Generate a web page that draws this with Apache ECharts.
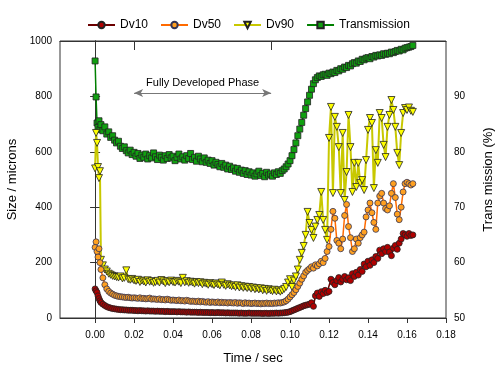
<!DOCTYPE html>
<html>
<head>
<meta charset="utf-8">
<script src="https://cdn.jsdelivr.net/npm/echarts@6/dist/echarts.min.js"></script>
<style>html,body{margin:0;padding:0;background:#fff}#c{width:500px;height:367px}</style>
</head>
<body>
<div id="c"></div>
<script>
// time (s)
const times = [0,0.0005,0.001,0.0015,0.002,0.0025,0.003,
0.004,0.005,0.006,0.007,0.008,0.009,0.010,
0.011,0.012,0.013,0.014,0.015,0.016,0.017,0.018,0.019,0.020,
0.021,0.022,0.023,0.024,0.025,0.026,0.027,0.028,0.029,0.030,
0.031,0.032,0.033,0.034,0.035,0.036,0.037,0.038,0.039,0.040,
0.041,0.042,0.043,0.044,0.045,0.046,0.047,0.048,0.049,0.050,
0.051,0.052,0.053,0.054,0.055,0.056,0.057,0.058,0.059,0.060,
0.061,0.062,0.063,0.064,0.065,0.066,0.067,0.068,0.069,0.070,
0.071,0.072,0.073,0.074,0.075,0.076,0.077,0.078,0.079,0.080,
0.081,0.082,0.083,0.084,0.085,0.086,0.087,0.088,0.089,0.090,
0.091,0.092,0.093,0.094,0.095,0.096,0.097,0.098,0.099,0.100,
0.101,0.102,0.103,0.104,0.105,0.106,0.107,0.108,0.109,0.110,
0.111,0.112,0.113,0.114,0.115,0.116,0.117,0.118,0.119,0.120,
0.121,0.122,0.123,0.124,0.125,0.126,0.127,0.128,0.129,0.130,
0.131,0.132,0.133,0.134,0.135,0.136,0.137,0.138,0.139,0.140,
0.141,0.142,0.143,0.144,0.145,0.146,0.147,0.148,0.149,0.150,
0.151,0.152,0.153,0.154,0.155,0.156,0.157,0.158,0.159,0.160,
0.161,0.162,0.163];

const dv10 = [105,98,92,80,70,62,56,
50,45,41,38,36,34,33,
32,31,30,30,29,29,28,28,28,27,
27,26,27,26,26,25,26,25,25,25,
24,25,24,24,24,23,24,23,23,23,
23,22,23,22,22,22,21,22,21,21,
21,21,20,21,20,20,20,20,19,20,
19,19,20,19,19,19,18,19,18,18,
18,18,18,17,18,17,17,17,18,17,
17,17,17,17,17,16,17,17,16,17,
17,17,18,17,18,18,19,20,21,23,
26,29,32,35,38,41,44,46,48,50,
55,42,80,90,78,95,88,100,92,96,
140,128,120,135,146,130,140,150,138,145,
135,160,150,165,155,175,168,195,185,205,
190,210,200,222,215,245,232,250,240,255,
238,225,252,262,248,270,285,305,300,295,
305,298,300];

const dv50 = [255,275,240,220,250,200,175,
145,120,105,96,90,86,82,
80,78,77,76,75,74,75,73,72,73,
72,71,73,70,71,69,70,72,68,69,
68,67,69,66,67,65,68,66,64,65,
64,63,65,62,63,61,64,62,60,61,
60,59,61,58,60,58,57,59,56,58,
57,56,58,55,57,55,56,54,56,55,
54,56,53,55,54,52,55,53,54,52,
53,54,52,53,51,53,52,54,52,53,
52,54,53,55,54,56,58,62,68,76,
84,92,102,114,126,140,152,165,172,178,
185,180,192,188,196,205,200,215,240,258,
320,385,360,280,270,250,285,370,410,330,
290,240,250,285,270,290,300,310,365,390,
415,380,345,320,415,440,450,415,395,390,
405,450,485,435,375,355,400,455,485,490,
485,480,485];

const dv90 = [540,668,632,545,505,530,210,
190,175,168,160,156,152,150,
148,146,150,143,145,172,140,138,141,136,
134,138,130,135,132,128,136,131,133,127,
130,134,128,137,132,126,133,129,135,130,
128,134,131,126,145,129,133,127,131,128,
124,130,126,129,122,127,124,120,126,122,
119,125,121,118,128,120,116,122,118,115,
117,112,118,110,115,109,113,108,112,106,
110,104,108,103,107,100,105,98,104,100,
97,102,96,100,95,99,105,112,128,140,
112,135,150,175,210,235,260,300,383,343,
318,289,330,354,372,455,354,318,282,650,
762,451,726,690,617,451,668,426,527,733,
617,455,560,473,560,487,498,462,570,679,
722,704,469,606,560,740,722,625,581,690,
733,787,751,690,596,552,668,740,758,751,
760,748,744];

const transmission = [96.4,89.9,85.2,84.4,85.6,84.0,84.9,
83.8,84.5,83.2,83.6,82.6,82.9,82.1,
81.6,81.9,81.0,80.6,80.9,80.2,79.8,80.3,79.5,79.9,
79.2,79.7,78.8,79.4,79.0,79.6,78.7,79.3,78.9,79.8,
79.1,78.6,79.4,79.0,78.5,79.3,78.8,79.5,78.9,79.2,
78.4,79.0,79.6,78.7,79.1,78.5,79.3,78.8,79.7,78.6,
79.0,78.3,79.2,78.7,78.2,78.9,78.1,78.5,77.9,78.4,
77.6,78.1,77.7,77.3,77.9,77.2,77.6,76.9,77.4,76.8,
77.1,76.5,77.0,76.3,76.7,76.1,76.6,75.9,76.4,75.8,
76.2,75.6,76.0,76.5,75.7,76.1,75.5,76.3,75.8,76.0,
75.6,76.2,75.9,76.4,76.1,76.6,76.9,77.3,77.8,78.4,
79.3,80.4,81.6,82.9,84.1,85.3,86.6,87.8,89.0,90.2,
91.3,92.3,93.0,93.4,93.7,93.6,93.9,94.0,93.8,94.2,
94.1,94.4,94.3,94.7,94.6,95.0,94.9,95.3,95.2,95.6,
95.5,95.9,96.1,96.0,96.4,96.3,96.7,96.6,96.9,97.0,
96.8,97.2,97.1,97.4,97.3,97.5,97.4,97.7,97.6,97.8,
97.7,98.0,97.9,98.1,98.3,98.2,98.5,98.4,98.7,98.8,
98.9,99.0,99.2];

const xTicks = [0,0.02,0.04,0.06,0.08,0.10,0.12,0.14,0.16,0.18];
const rightTicks = [50,60,70,80,90];
const phaseLabel = 'Fully Developed Phase';
const phaseStart = 0.02, phaseEnd = 0.0903, phaseLevel = 90.6;
const phaseTicks = [phaseStart, phaseEnd];

function pairs(ys){ return times.map((t,i)=>[t, ys[i]]); }

const FONT = 'Liberation Sans, Arial, sans-serif';
const chart = echarts.init(document.getElementById('c'), null, {renderer:'canvas'});
chart.setOption({
  animation: false,
  textStyle: {fontFamily: FONT},
  grid: {left: 60, right: 54, top: 41, bottom: 49, show: true, borderColor: '#333', borderWidth: 1,
         containLabel: false, outerBoundsMode: 'none'},
  legend: {
    top: 14, left: 82, itemGap: 12, itemWidth: 27, itemHeight: 8,
    textStyle: {fontFamily: FONT, fontSize: 12, color: '#000'},
    data: ['Dv10','Dv50','Dv90','Transmission']
  },
  xAxis: [{
    type: 'value', min: -0.018, max: 0.18,
    name: 'Time / sec', nameLocation: 'middle', nameGap: 34,
    nameTextStyle: {fontFamily: FONT, fontSize: 13, color: '#000'},
    axisLine: {show: true, onZero: false, lineStyle: {color: '#333'}},
    axisTick: {show: true, inside: false, length: 5, customValues: xTicks, lineStyle: {color: '#333'}},
    axisLabel: {customValues: xTicks, formatter: v => v.toFixed(2), fontSize: 10, color: '#000', margin: 12},
    splitLine: {show: false}
  },{
    type: 'value', min: -0.018, max: 0.18, position: 'top',
    axisLine: {show: true, onZero: false, lineStyle: {color: '#333'}},
    axisTick: {show: true, inside: true, length: 9, customValues: phaseTicks, lineStyle: {color: '#333'}},
    axisLabel: {show: false},
    splitLine: {show: false}
  }],
  yAxis: [{
    type: 'value', min: 0, max: 1000, interval: 200,
    name: 'Size / microns', nameLocation: 'middle', nameGap: 40,
    nameTextStyle: {fontFamily: FONT, fontSize: 13, color: '#000'},
    axisLine: {show: true, lineStyle: {color: '#333'}},
    axisTick: {show: true, length: 5, lineStyle: {color: '#333'}},
    axisLabel: {formatter: v => String(v), fontSize: 10, color: '#000', margin: 8},
    splitLine: {show: false}
  },{
    type: 'value', min: 50, max: 100, interval: 10, position: 'right',
    name: 'Trans mission (%)', nameLocation: 'middle', nameGap: 36, nameRotate: 90,
    nameTextStyle: {fontFamily: FONT, fontSize: 13, color: '#000'},
    axisLine: {show: true, lineStyle: {color: '#333'}},
    axisTick: {show: true, length: 5, customValues: rightTicks, lineStyle: {color: '#333'}},
    axisLabel: {customValues: rightTicks, fontSize: 10, color: '#000', margin: 8},
    splitLine: {show: false}
  }],
  series: [
    {
      name: 'Dv10', type: 'line', yAxisIndex: 0, z: 5, data: pairs(dv10),
      symbol: 'circle', symbolSize: 6,
      lineStyle: {color: '#6b0000', width: 1.5},
      itemStyle: {color: '#b00000', borderColor: '#222', borderWidth: 0.8}
    },
    {
      name: 'Dv50', type: 'line', yAxisIndex: 0, z: 4, data: pairs(dv50),
      symbol: 'circle', symbolSize: 6,
      lineStyle: {color: '#ff6a00', width: 1.5},
      itemStyle: {color: '#ffa020', borderColor: '#335', borderWidth: 0.8}
    },
    {
      name: 'Dv90', type: 'line', yAxisIndex: 0, z: 3, data: pairs(dv90),
      symbol: 'triangle', symbolRotate: 180, symbolSize: 7,
      lineStyle: {color: '#c8c800', width: 2},
      itemStyle: {color: '#ffff00', borderColor: '#222', borderWidth: 0.8}
    },
    {
      name: 'Transmission', type: 'line', yAxisIndex: 1, z: 2, data: pairs(transmission),
      symbol: 'rect', symbolSize: 6,
      lineStyle: {color: '#008000', width: 1.5},
      itemStyle: {color: '#10a010', borderColor: '#222', borderWidth: 0.8},
      markLine: {
        silent: true, symbol: ['arrow','arrow'], symbolSize: [6, 9],
        lineStyle: {color: '#777', width: 1, type: 'solid'},
        label: {show: true, position: 'insideMiddleTop', formatter: phaseLabel, fontFamily: FONT, fontSize: 11, color: '#000', distance: 5},
        data: [[{coord: [phaseStart, phaseLevel]}, {coord: [phaseEnd, phaseLevel]}]]
      }
    }
  ]
});
</script>
</body>
</html>
